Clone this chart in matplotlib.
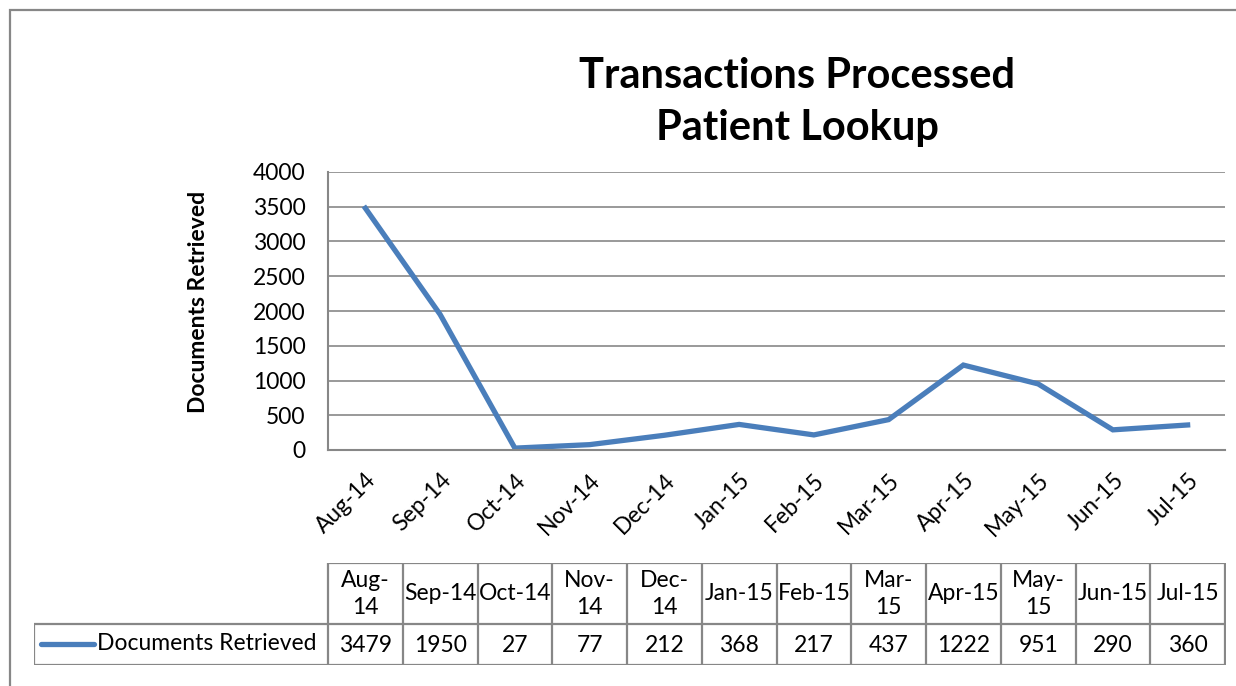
import matplotlib.pyplot as plt
from matplotlib.patches import Rectangle

months = ['Aug-14', 'Sep-14', 'Oct-14', 'Nov-14', 'Dec-14', 'Jan-15',
          'Feb-15', 'Mar-15', 'Apr-15', 'May-15', 'Jun-15', 'Jul-15']
table_heads = ['Aug-\n14', 'Sep-14', 'Oct-14', 'Nov-\n14', 'Dec-\n14', 'Jan-15',
               'Feb-15', 'Mar-\n15', 'Apr-15', 'May-\n15', 'Jun-15', 'Jul-15']
docs = [3479, 1950, 27, 77, 212, 368, 217, 437, 1222, 951, 290, 360]
series_name = 'Documents Retrieved'

W, H = 1236, 686
blue = '#4a7ebb'
grey = '#878787'
fs = 16.5
plt.rcParams['font.family'] = ['Lato', 'DejaVu Sans']

fig = plt.figure(figsize=(W / 100, H / 100), dpi=100)

# outer chart border (runs off right / bottom edge)
fig.add_artist(Rectangle((10 / W, -0.1), 2, (H - 10) / H + 0.1,
                         transform=fig.transFigure, fill=False,
                         edgecolor=grey, linewidth=1.6))

def px(x0, y0, x1, y1):
    return [x0 / W, 1 - y1 / H, (x1 - x0) / W, (y1 - y0) / H]

ax = fig.add_axes(px(328, 172, 1225, 450))
x = list(range(len(months)))
ax.plot(x, docs, color=blue, linewidth=3.8, solid_joinstyle='miter')
ax.set_xlim(-0.5, len(months) - 0.5)
ax.set_ylim(0, 4000)
ax.set_yticks(range(0, 4001, 500))
ax.grid(axis='y', color=grey, linewidth=1.2)
ax.set_axisbelow(True)
for s in ['top', 'right']:
    ax.spines[s].set_visible(False)
for s in ['left', 'bottom']:
    ax.spines[s].set_color(grey)
    ax.spines[s].set_linewidth(1.5)
ax.set_xticks(x)
ax.set_xticklabels(months, rotation=45, ha='right', rotation_mode='anchor')
ax.tick_params(axis='both', length=0, labelsize=fs)
ax.tick_params(axis='x', pad=14)
ax.tick_params(axis='y', pad=16)

fig.text(198 / W, 1 - 302 / H, series_name, rotation=90, fontsize=fs,
         fontweight='bold', ha='center', va='center')
fig.text(797 / W, 1 - 102 / H, 'Transactions Processed\nPatient Lookup',
         fontsize=30, fontweight='bold', ha='center', va='center',
         linespacing=1.45)

# data table below the chart
tx = fig.add_axes(px(34, 563, 1226, 665))
left = -0.5 - (328 - 34) / 74.75
right = len(months) - 0.5
tx.set_xlim(left, right + 1 / 74.75)
tx.set_ylim(0, 102)
tx.axis('off')
lc = dict(color=grey, linewidth=1.6)
tx.hlines([0, 41], left, right, **lc)
tx.hlines(102, -0.5, right, **lc)
tx.vlines(left, 0, 41, **lc)
tx.vlines([i - 0.5 for i in range(len(months) + 1)], 0, 102, **lc)
for i, (h, v) in enumerate(zip(table_heads, docs)):
    tx.text(i, 71, h, ha='center', va='center', fontsize=fs, linespacing=1.3)
    tx.text(i, 20, str(v), ha='center', va='center', fontsize=fs)
u = 1 / 74.75
tx.plot([left + 7 * u, left + 60 * u], [21, 21], color=blue,
        linewidth=3.8, solid_capstyle='round')
tx.text(left + 63 * u, 21, series_name, ha='left', va='center', fontsize=fs)

fig.savefig('out.png', dpi=100)
